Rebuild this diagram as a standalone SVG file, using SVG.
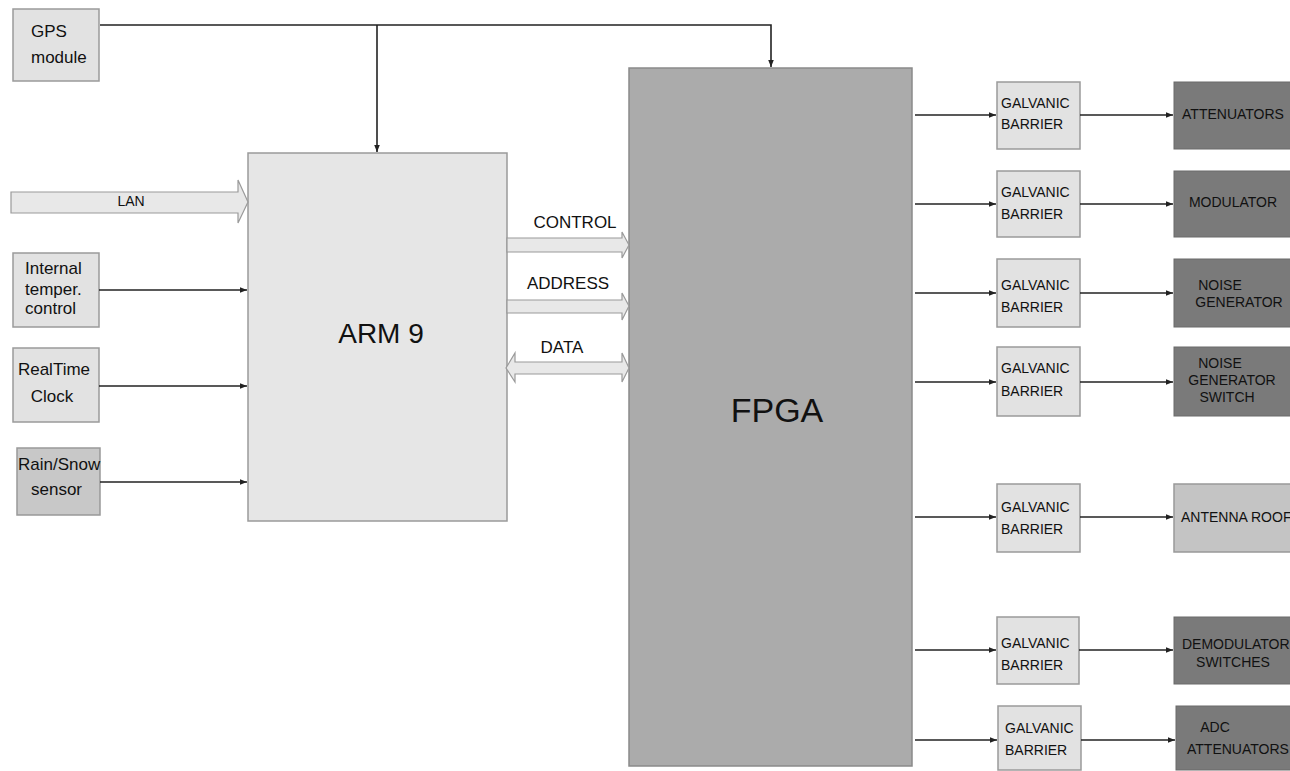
<svg xmlns="http://www.w3.org/2000/svg" width="1290" height="771" viewBox="0 0 1290 771">
<style>
text{font-family:"Liberation Sans",Arial,sans-serif;fill:#111}
.lt{fill:#e2e2e2;stroke:#9a9a9a;stroke-width:1.5}
.ar{fill:#e6e6e6;stroke:#9a9a9a;stroke-width:1.5}
.fp{fill:#ababab;stroke:#8a8a8a;stroke-width:1.5}
.dk{fill:#7a7a7a;stroke:#6a6a6a;stroke-width:1}
.md{fill:#c4c4c4;stroke:#999;stroke-width:1.5}
.rs{fill:#c8c8c8;stroke:#999;stroke-width:1.5}
.bus{fill:#e8e8e8;stroke:#9a9a9a;stroke-width:1.2}
.ln{fill:none;stroke:#222;stroke-width:1.6}
.s17{font-size:17px}
.s14{font-size:14px}
</style>
<defs>
<marker id="ah" viewBox="0 0 10 10" refX="10" refY="5" markerWidth="7" markerHeight="7" markerUnits="userSpaceOnUse" orient="auto">
<path d="M0,1 L10,5 L0,9 z" fill="#222"/>
</marker>
</defs>

<g id="gps"><rect class="lt" x="13" y="9" width="86" height="72"/><text class="s17" x="31" y="37">GPS</text><text class="s17" x="31" y="63">module</text></g>
<g id="arm9"><rect class="ar" x="248" y="153" width="259" height="368"/><text x="381" y="343" font-size="28" text-anchor="middle">ARM 9</text></g>
<g id="fpga"><rect class="fp" x="629" y="68" width="283" height="698"/><text x="777" y="422" font-size="34" text-anchor="middle">FPGA</text></g>
<g id="lan"><path class="bus" d="M11,192 L238,192 L238,180 L248,202 L238,223 L238,213 L11,213 Z"/><text class="s14" x="131" y="206" text-anchor="middle">LAN</text></g>
<g id="temp"><rect class="lt" x="13" y="253" width="86" height="74"/><text class="s17" x="25" y="274">Internal</text><text class="s17" x="25" y="295">temper.</text><text class="s17" x="25" y="314">control</text></g>
<g id="rtc"><rect class="lt" x="13" y="348" width="86" height="74"/><text class="s17" x="54" y="375" text-anchor="middle">RealTime</text><text class="s17" x="52" y="402" text-anchor="middle">Clock</text></g>
<g id="rain"><rect class="rs" x="17" y="448" width="83" height="67"/><text class="s17" x="18" y="470">Rain/Snow</text><text class="s17" x="31" y="495">sensor</text></g>

<g id="bus-control"><path class="bus" d="M507,238 L622,238 L622,232 L629,245 L622,258 L622,252 L507,252 Z"/><text class="s17" x="575" y="228" text-anchor="middle">CONTROL</text></g>
<g id="bus-address"><path class="bus" d="M507,300 L622,300 L622,293 L629,306 L622,320 L622,313 L507,313 Z"/><text class="s17" x="568" y="289" text-anchor="middle">ADDRESS</text></g>
<g id="bus-data"><path class="bus" d="M515,362 L622,362 L622,353 L629,368 L622,382 L622,374 L515,374 L515,382 L506,368 L515,353 Z"/><text class="s17" x="562" y="353" text-anchor="middle">DATA</text></g>

<g id="gb1"><rect class="lt" x="997" y="82" width="83" height="67"/><text class="s14" x="1001" y="108">GALVANIC</text><text class="s14" x="1001" y="129">BARRIER</text></g>
<g id="gb2"><rect class="lt" x="997" y="171" width="83" height="66"/><text class="s14" x="1001" y="197">GALVANIC</text><text class="s14" x="1001" y="219">BARRIER</text></g>
<g id="gb3"><rect class="lt" x="997" y="259" width="83" height="68"/><text class="s14" x="1001" y="290">GALVANIC</text><text class="s14" x="1001" y="312">BARRIER</text></g>
<g id="gb4"><rect class="lt" x="997" y="347" width="83" height="69"/><text class="s14" x="1001" y="373">GALVANIC</text><text class="s14" x="1001" y="396">BARRIER</text></g>
<g id="gb5"><rect class="lt" x="997" y="484" width="83" height="68"/><text class="s14" x="1001" y="512">GALVANIC</text><text class="s14" x="1001" y="534">BARRIER</text></g>
<g id="gb6"><rect class="lt" x="997" y="617" width="82" height="67"/><text class="s14" x="1001" y="648">GALVANIC</text><text class="s14" x="1001" y="670">BARRIER</text></g>
<g id="gb7"><rect class="lt" x="998" y="706" width="83" height="64"/><text class="s14" x="1005" y="733">GALVANIC</text><text class="s14" x="1005" y="755">BARRIER</text></g>

<g id="attenuators"><rect class="dk" x="1174" y="82" width="120" height="67"/><text class="s14" x="1233" y="119" text-anchor="middle">ATTENUATORS</text></g>
<g id="modulator"><rect class="dk" x="1174" y="171" width="120" height="66"/><text class="s14" x="1233" y="207" text-anchor="middle">MODULATOR</text></g>
<g id="noise-gen"><rect class="dk" x="1174" y="259" width="120" height="68"/><text class="s14" x="1220" y="290" text-anchor="middle">NOISE</text><text class="s14" x="1239" y="307" text-anchor="middle">GENERATOR</text></g>
<g id="noise-switch"><rect class="dk" x="1174" y="347" width="120" height="69"/><text class="s14" x="1220" y="368" text-anchor="middle">NOISE</text><text class="s14" x="1232" y="385" text-anchor="middle">GENERATOR</text><text class="s14" x="1227" y="402" text-anchor="middle">SWITCH</text></g>
<g id="antenna"><rect class="md" x="1174" y="484" width="120" height="68"/><text class="s14" x="1181" y="522">ANTENNA ROOF</text></g>
<g id="demod"><rect class="dk" x="1174" y="617" width="120" height="67"/><text class="s14" x="1182" y="649">DEMODULATORS</text><text class="s14" x="1233" y="667" text-anchor="middle">SWITCHES</text></g>
<g id="adc"><rect class="dk" x="1176" y="706" width="118" height="64"/><text class="s14" x="1215" y="732" text-anchor="middle">ADC</text><text class="s14" x="1187" y="754">ATTENUATORS</text></g>

<g id="connectors">
<path class="ln" d="M100,25 L771,25 L771,67" marker-end="url(#ah)"/>
<path class="ln" d="M377,25 L377,152" marker-end="url(#ah)"/>
<path class="ln" d="M99,290 L247,290" marker-end="url(#ah)"/>
<path class="ln" d="M99,386 L247,386" marker-end="url(#ah)"/>
<path class="ln" d="M100,482 L247,482" marker-end="url(#ah)"/>
<path class="ln" d="M915,115 L996,115" marker-end="url(#ah)"/>
<path class="ln" d="M1080,115 L1173,115" marker-end="url(#ah)"/>
<path class="ln" d="M915,204 L996,204" marker-end="url(#ah)"/>
<path class="ln" d="M1080,204 L1173,204" marker-end="url(#ah)"/>
<path class="ln" d="M915,293 L996,293" marker-end="url(#ah)"/>
<path class="ln" d="M1080,293 L1173,293" marker-end="url(#ah)"/>
<path class="ln" d="M915,382 L996,382" marker-end="url(#ah)"/>
<path class="ln" d="M1080,382 L1173,382" marker-end="url(#ah)"/>
<path class="ln" d="M915,517 L996,517" marker-end="url(#ah)"/>
<path class="ln" d="M1080,517 L1173,517" marker-end="url(#ah)"/>
<path class="ln" d="M915,650 L996,650" marker-end="url(#ah)"/>
<path class="ln" d="M1079,650 L1173,650" marker-end="url(#ah)"/>
<path class="ln" d="M915,740 L997,740" marker-end="url(#ah)"/>
<path class="ln" d="M1081,740 L1175,740" marker-end="url(#ah)"/>
</g>
</svg>
